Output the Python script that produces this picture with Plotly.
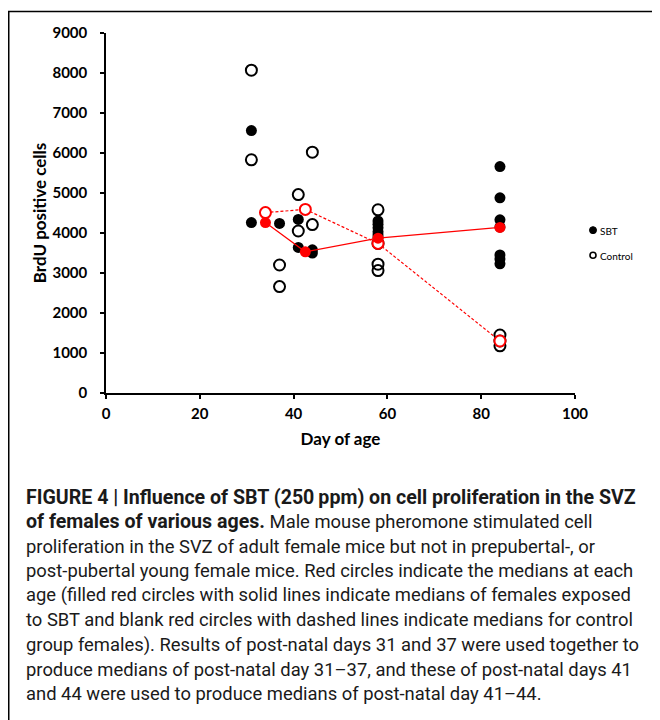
import plotly.graph_objects as go

# ---- data ----
sbt_day = [31, 31, 37, 41, 41, 44, 44, 58, 58, 58, 58, 58, 58, 84, 84, 84, 84, 84, 84, 84]
sbt_val = [6560, 4260, 4240, 4340, 3640, 3580, 3500, 4300, 4220, 4130, 4030, 3950, 3880, 5660, 4880, 4330, 4150, 3450, 3350, 3230]

ctrl_day = [31, 31, 37, 37, 41, 41, 44, 44, 58, 58, 58, 58, 84, 84, 84]
ctrl_val = [8070, 5830, 3200, 2660, 4960, 4050, 6020, 4210, 4580, 3740, 3220, 3060, 1450, 1300, 1180]

med_day = [34, 42.5, 58, 84]
sbt_med = [4260, 3530, 3870, 4140]
ctrl_med = [4510, 4590, 3740, 1300]

x_ticks = [0, 20, 40, 60, 80, 100]
y_ticks = [0, 1000, 2000, 3000, 4000, 5000, 6000, 7000, 8000, 9000]

BOLD = '<span style="font-weight:bold;font-size:19.6px">'
caption_lines = [
    BOLD + "FIGURE 4 | Influence of SBT (250\u2009ppm) on cell proliferation in the SVZ</span>",
    BOLD + "of females of various ages.</span> Male mouse pheromone stimulated cell",
    "proliferation in the SVZ of adult female mice but not in prepubertal-, or",
    "post-pubertal young female mice. Red circles indicate the medians at each",
    "age (filled red circles with solid lines indicate medians of females exposed",
    "to SBT and blank red circles with dashed lines indicate medians for control",
    "group females). Results of post-natal days 31 and 37 were used together to",
    "produce medians of post-natal day 31\u201337, and these of post-natal days 41",
    "and 44 were used to produce medians of post-natal day 41\u201344.",
]

# ---- layout geometry (page pixels; the page body adds an 8px offset) ----
W, H = 660, 720
OFF = 8
L, R, T, B = 106 - OFF, 575 - OFF, 33 - OFF, 392.7 - OFF
PW, PH = R - L, B - T


def px(x):
    return (x - OFF - L) / PW


def py(y):
    return (B - (y - OFF)) / PH


fig = go.Figure()

fig.add_trace(go.Scatter(
    x=ctrl_day, y=ctrl_val, mode="markers", name="Control",
    marker=dict(symbol="circle-open", size=11, color="black", line=dict(width=2, color="black")),
    showlegend=False, cliponaxis=False,
))
fig.add_trace(go.Scatter(
    x=sbt_day, y=sbt_val, mode="markers", name="SBT",
    marker=dict(symbol="circle", size=11, color="black"),
    showlegend=False, cliponaxis=False,
))
fig.add_trace(go.Scatter(
    x=med_day, y=ctrl_med, mode="lines+markers", name="Control median",
    line=dict(color="#ff0000", width=1.2, dash="3px,2px"),
    marker=dict(symbol="circle", size=11, color="white", line=dict(width=2, color="#ff0000")),
    showlegend=False, cliponaxis=False,
))
fig.add_trace(go.Scatter(
    x=med_day, y=sbt_med, mode="lines+markers", name="SBT median",
    line=dict(color="#ff0000", width=1.2),
    marker=dict(symbol="circle", size=11, color="#ff0000"),
    showlegend=False, cliponaxis=False,
))

tick_font = dict(family="Lato, 'Open Sans', sans-serif", size=15, color="black", weight="bold")
title_font = dict(family="Lato, 'Open Sans', sans-serif", size=17, color="black")

fig.update_xaxes(
    range=[0, 100], tickvals=x_ticks, ticktext=[str(v) for v in x_ticks],
    showline=True, linecolor="black", linewidth=1.5, showgrid=False, zeroline=False,
    ticks="outside", ticklen=4, tickwidth=1.5, tickcolor="black",
    tickfont=tick_font, ticklabelstandoff=2,
    title=dict(text="<b>Day of age</b>", font=title_font, standoff=12),
)
fig.update_yaxes(
    range=[0, 9000], tickvals=y_ticks, ticktext=[str(v) for v in y_ticks],
    showline=True, linecolor="black", linewidth=1.5, showgrid=False, zeroline=False,
    ticks="outside", ticklen=4, tickwidth=1.5, tickcolor="black",
    tickfont=tick_font, ticklabelstandoff=10,
    title=dict(text="<b>BrdU positive cells</b>", font=title_font, standoff=1),
)

shapes = [
    # frame (left and top)
    dict(type="line", xref="paper", yref="paper", x0=px(8.75), x1=px(8.75), y0=py(11.5), y1=py(730),
         line=dict(color="black", width=1.5)),
    dict(type="line", xref="paper", yref="paper", x0=px(8), x1=px(668), y0=py(11.5), y1=py(11.5),
         line=dict(color="black", width=1.5)),
    # legend symbols
    dict(type="circle", xref="paper", yref="paper", x0=px(589.5), x1=px(596.5), y0=py(233.5), y1=py(226.5),
         fillcolor="black", line=dict(color="black", width=1)),
    dict(type="circle", xref="paper", yref="paper", x0=px(590), x1=px(596), y0=py(258), y1=py(252),
         fillcolor="rgba(0,0,0,0)", line=dict(color="black", width=1.6)),
]

annotations = [
    dict(text="SBT", xref="paper", yref="paper", x=px(598), y=py(230.5), xanchor="left", yanchor="middle",
         showarrow=False, font=dict(family="Lato, 'Open Sans', sans-serif", size=10, color="black")),
    dict(text="Control", xref="paper", yref="paper", x=px(598), y=py(255.5), xanchor="left", yanchor="middle",
         showarrow=False, font=dict(family="Lato, 'Open Sans', sans-serif", size=10, color="black")),
]

cap_top = 497
cap_step = 24.5
for i, line in enumerate(caption_lines):
    annotations.append(dict(
        text=line, xref="paper", yref="paper", x=px(24), y=py(cap_top + i * cap_step),
        xanchor="left", yanchor="middle", showarrow=False, align="left",
        font=dict(family="Roboto, sans-serif", size=18.4, color="#1a1a1a"),
    ))

fig.update_layout(
    width=W, height=H,
    margin=dict(l=L, r=W - R, t=T, b=H - B, pad=0),
    paper_bgcolor="white", plot_bgcolor="white",
    shapes=shapes, annotations=annotations,
    showlegend=False,
)

fig.write_html("out.html")
